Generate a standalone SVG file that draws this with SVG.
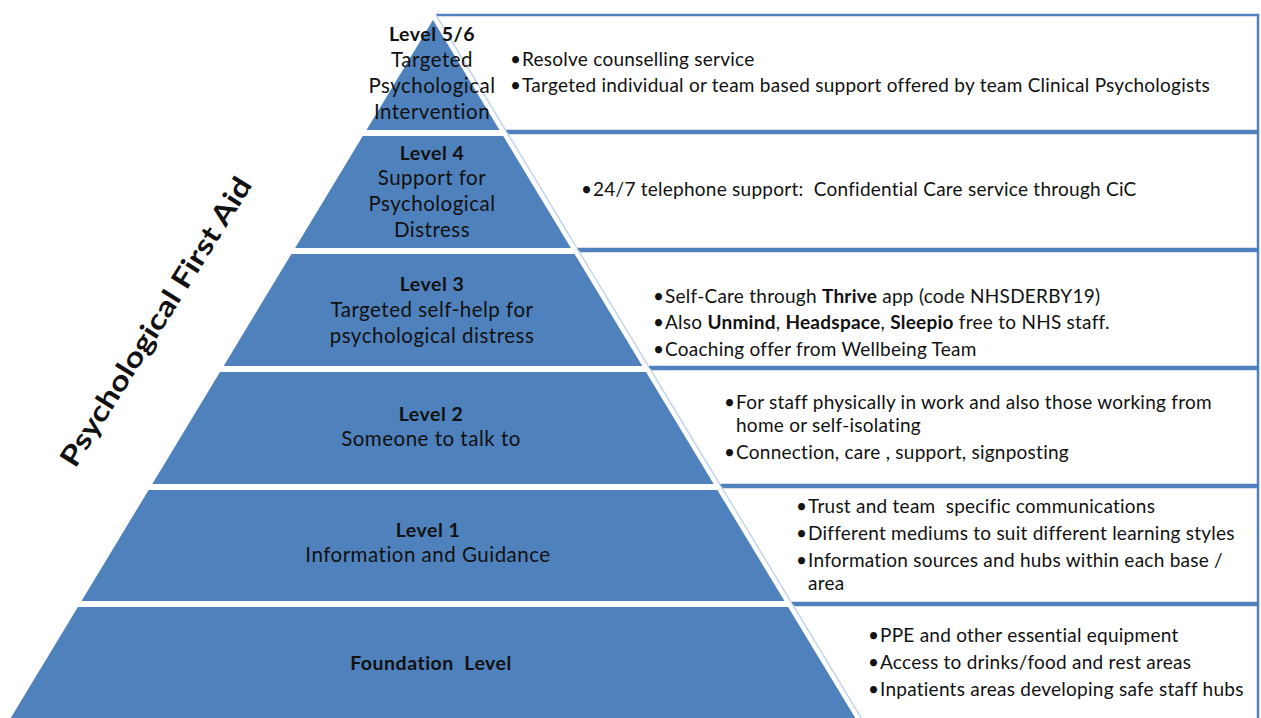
<svg xmlns="http://www.w3.org/2000/svg" width="1261" height="718" viewBox="0 0 1261 718">
  <style>
    .tier { fill: #4f81bd; }
    .card { fill: #ffffff; }
    .frame { fill: none; stroke: #4f81bd; stroke-width: 2.5; }
    .edge { stroke: #c6d6ea; stroke-width: 1.5; }
    text { font-family: Lato, "Liberation Sans", sans-serif; fill: #111111; }
    .lvl { font-size: 20.5px; letter-spacing: 0.5px; text-anchor: middle; }
    .hd { font-weight: bold; font-size: 19.5px; }
    .item { font-size: 19px; letter-spacing: 0.25px; }
    .title { font-size: 28px; font-weight: bold; text-anchor: middle; }
    .b { font-weight: bold; }
  </style>
  <rect width="1261" height="718" fill="#ffffff"/>

  <!-- Detail cards to the right of the pyramid -->
  <g id="card-level56">
    <polygon class="card" points="436,15 1258,15 1258,131 506.2,131"/>
    <path class="frame" d="M436,15 H1258 V131 H506.2"/>
    <line class="edge" x1="436" y1="15" x2="506.2" y2="131"/>
    <text class="item" y="66"><tspan x="510">•</tspan><tspan x="522">Resolve counselling service</tspan></text>
    <text class="item" y="92"><tspan x="510">•</tspan><tspan x="522">Targeted individual or team based support offered by team Clinical Psychologists</tspan></text>
  </g>
  <g id="card-level4">
    <polygon class="card" points="507.4,133 1258,133 1258,249 577.5,249"/>
    <path class="frame" d="M507.4,133 H1258 V249 H577.5"/>
    <line class="edge" x1="507.4" y1="133" x2="577.5" y2="249"/>
    <text class="item" y="196" xml:space="preserve"><tspan x="581">•</tspan><tspan x="593">24/7 telephone support:  Confidential Care service through CiC</tspan></text>
  </g>
  <g id="card-level3">
    <polygon class="card" points="578.8,251 1258,251 1258,367 648.9,367"/>
    <path class="frame" d="M578.8,251 H1258 V367 H648.9"/>
    <line class="edge" x1="578.8" y1="251" x2="648.9" y2="367"/>
    <text class="item" y="303"><tspan x="653">•</tspan><tspan x="665">Self-Care through <tspan class="b">Thrive</tspan> app (code NHSDERBY19)</tspan></text>
    <text class="item" y="329"><tspan x="653">•</tspan><tspan x="665">Also <tspan class="b">Unmind</tspan>, <tspan class="b">Headspace</tspan>, <tspan class="b">Sleepio</tspan> free to NHS staff.</tspan></text>
    <text class="item" y="356"><tspan x="653">•</tspan><tspan x="665">Coaching offer from Wellbeing Team</tspan></text>
  </g>
  <g id="card-level2">
    <polygon class="card" points="650.1,369 1258,369 1258,485 720.3,485"/>
    <path class="frame" d="M650.1,369 H1258 V485 H720.3"/>
    <line class="edge" x1="650.1" y1="369" x2="720.3" y2="485"/>
    <text class="item" y="409"><tspan x="724">•</tspan><tspan x="736">For staff physically in work and also those working from</tspan></text>
    <text class="item" x="736" y="432">home or self-isolating</text>
    <text class="item" y="459"><tspan x="724">•</tspan><tspan x="736">Connection, care , support, signposting</tspan></text>
  </g>
  <g id="card-level1">
    <polygon class="card" points="721.5,487 1258,487 1258,603 791.7,603"/>
    <path class="frame" d="M721.5,487 H1258 V603 H791.7"/>
    <line class="edge" x1="721.5" y1="487" x2="791.7" y2="603"/>
    <text class="item" y="513" xml:space="preserve"><tspan x="796">•</tspan><tspan x="808">Trust and team  specific communications</tspan></text>
    <text class="item" y="540"><tspan x="796">•</tspan><tspan x="808">Different mediums to suit different learning styles</tspan></text>
    <text class="item" y="567"><tspan x="796">•</tspan><tspan x="808">Information sources and hubs within each base /</tspan></text>
    <text class="item" x="808" y="590">area</text>
  </g>
  <g id="card-foundation">
    <polygon class="card" points="792.9,605 1258,605 1258,721 863.1,721"/>
    <path class="frame" d="M792.9,605 H1258 V721 H863.1"/>
    <line class="edge" x1="792.9" y1="605" x2="863.1" y2="721"/>
    <text class="item" y="642"><tspan x="868">•</tspan><tspan x="880">PPE and other essential equipment</tspan></text>
    <text class="item" y="669"><tspan x="868">•</tspan><tspan x="880">Access to drinks/food and rest areas</tspan></text>
    <text class="item" y="696"><tspan x="868">•</tspan><tspan x="880">Inpatients areas developing safe staff hubs</tspan></text>
  </g>

  <!-- Pyramid tiers, apex to base -->
  <g id="tier-level56">
    <polygon class="tier" points="433,20 499.5,130 366.5,130"/>
    <text class="lvl hd" x="432" y="41">Level 5/6</text>
    <text class="lvl" x="432" y="67">Targeted</text>
    <text class="lvl" x="432" y="93">Psychological</text>
    <text class="lvl" x="432" y="119">Intervention</text>
  </g>
  <g id="tier-level4">
    <polygon class="tier" points="362.8,136 503.2,136 570.9,248 295.1,248"/>
    <text class="lvl hd" x="432" y="160">Level 4</text>
    <text class="lvl" x="432" y="185">Support for</text>
    <text class="lvl" x="432" y="211">Psychological</text>
    <text class="lvl" x="432" y="237">Distress</text>
  </g>
  <g id="tier-level3">
    <polygon class="tier" points="291.4,254 574.6,254 642.3,366 223.7,366"/>
    <text class="lvl hd" x="432" y="291">Level 3</text>
    <text class="lvl" x="432" y="317">Targeted self-help for</text>
    <text class="lvl" x="432" y="343">psychological distress</text>
  </g>
  <g id="tier-level2">
    <polygon class="tier" points="220,372 646,372 713.7,484 152.3,484"/>
    <text class="lvl hd" x="431" y="421">Level 2</text>
    <text class="lvl" x="431" y="446">Someone to talk to</text>
  </g>
  <g id="tier-level1">
    <polygon class="tier" points="148.6,490 717.4,490 784.5,601 81.5,601"/>
    <text class="lvl hd" x="428" y="537">Level 1</text>
    <text class="lvl" x="428" y="562">Information and Guidance</text>
  </g>
  <g id="tier-foundation">
    <polygon class="tier" points="77.9,607 788.1,607 855.3,718 10.7,718"/>
    <text class="lvl hd" x="431" y="670" xml:space="preserve">Foundation  Level</text>
  </g>

  <!-- Rotated side heading -->
  <g id="side-title">
    <text class="title" transform="translate(164,327) rotate(-58)" textLength="335" lengthAdjust="spacingAndGlyphs">Psychological First Aid</text>
  </g>

  <g id="connectors"/>
</svg>
